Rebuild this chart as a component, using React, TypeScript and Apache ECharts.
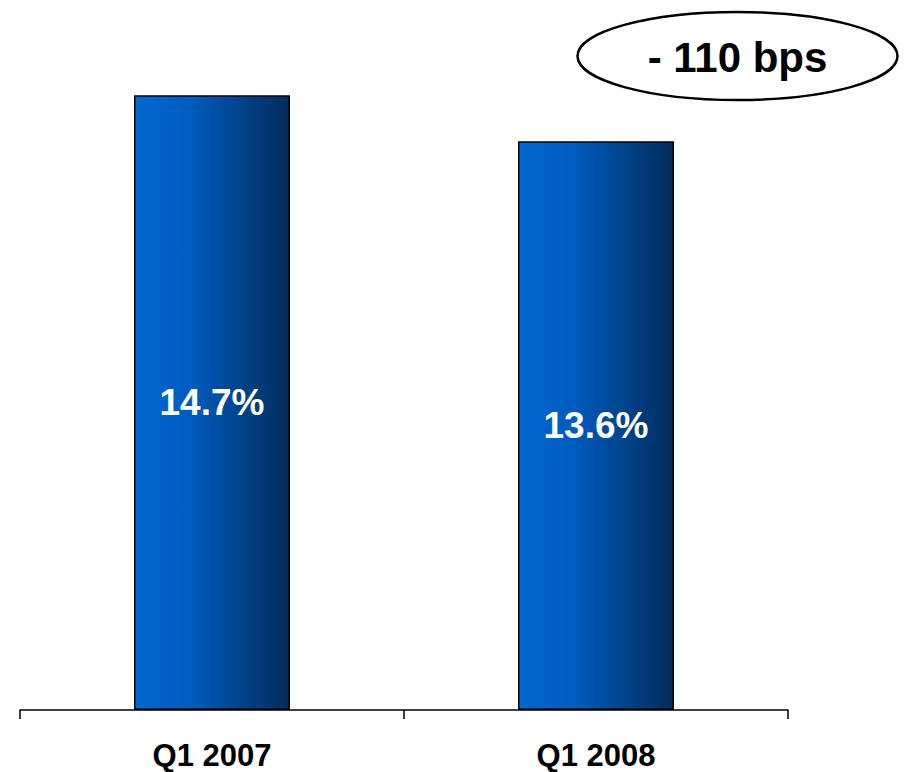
import React, { useEffect, useRef } from "react";
import * as echarts from "echarts";

// Operating margin by quarter
const categories: string[] = ["Q1 2007", "Q1 2008"];
const marginValues: number[] = [14.7, 13.6];
const changeLabel = "- 110 bps";

const FONT = "Arial, 'Liberation Sans', Helvetica, sans-serif";

export default function App() {
  const ref = useRef<HTMLDivElement>(null);

  useEffect(() => {
    if (!ref.current) return;
    const chart = echarts.init(ref.current, undefined, { renderer: "svg" });

    const barFill = new echarts.graphic.LinearGradient(0, 0, 1, 0, [
      { offset: 0, color: "#0068D2" },
      { offset: 0.35, color: "#005CBE" },
      { offset: 1, color: "#002C5C" },
    ]);

    chart.setOption({
      animation: false,
      backgroundColor: "#ffffff",
      grid: { left: 20, right: 121, top: 41, bottom: 62, containLabel: false },
      xAxis: {
        type: "category",
        data: categories,
        axisLine: { show: true, lineStyle: { color: "#000000", width: 1.5 } },
        axisTick: { show: true, length: 9, lineStyle: { color: "#000000", width: 1.5 } },
        axisLabel: {
          color: "#000000",
          fontFamily: FONT,
          fontSize: 31,
          fontWeight: "bold",
          lineHeight: 31,
          margin: 30,
        },
      },
      yAxis: {
        type: "value",
        min: 0,
        max: 16,
        show: false,
        splitLine: { show: false },
      },
      series: [
        {
          type: "bar",
          data: marginValues,
          barWidth: 156,
          itemStyle: {
            color: barFill,
            borderColor: "#000000",
            borderWidth: 1.5,
          },
          label: {
            show: true,
            position: "inside",
            formatter: (p: any) => `${p.value.toFixed(1)}%`,
            color: "#ffffff",
            fontFamily: FONT,
            fontSize: 37,
            fontWeight: "bold",
          },
        },
      ],
      graphic: [
        {
          type: "ellipse",
          shape: { cx: 737.5, cy: 56, rx: 160, ry: 44 },
          style: { fill: "#ffffff", stroke: "#000000", lineWidth: 2.5 },
        },
        {
          type: "text",
          x: 737.5,
          y: 57,
          style: {
            text: changeLabel,
            fill: "#000000",
            font: `bold 42px ${FONT}`,
            align: "center",
            verticalAlign: "middle",
          },
        },
      ],
    });

    return () => chart.dispose();
  }, []);

  return (
    <div
      ref={ref}
      style={{ position: "fixed", left: 0, top: 0, width: 909, height: 772 }}
    />
  );
}
